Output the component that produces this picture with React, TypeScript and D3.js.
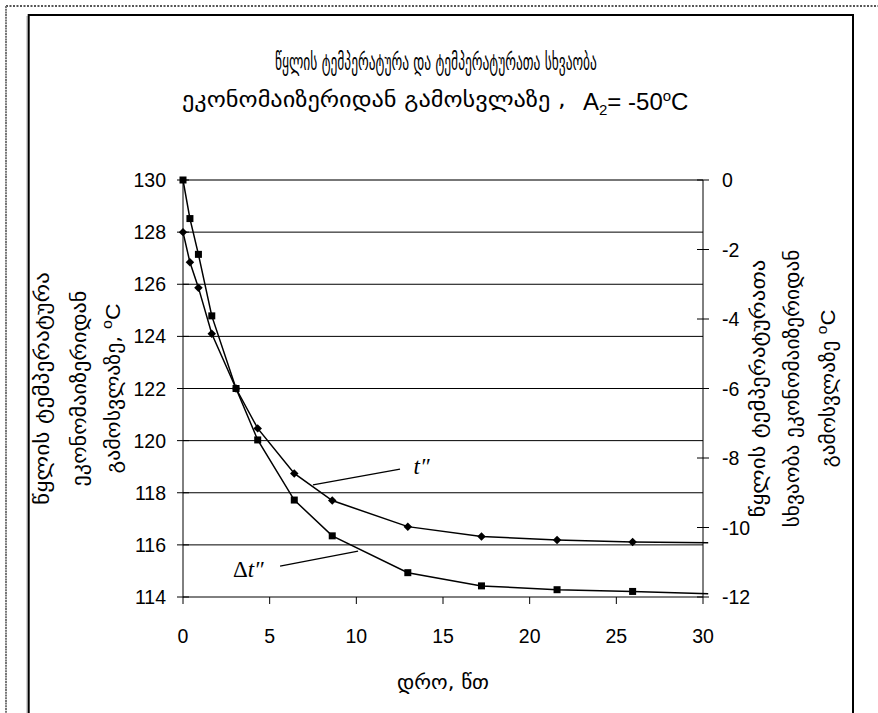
import React, { useLayoutEffect, useRef, useState } from "react";
import * as d3 from "d3";

// ---- data ----
const timeMin = [0, 0.4, 0.89, 1.66, 3.06, 4.31, 6.42, 8.61, 12.97, 17.22, 21.58, 25.94, 30.3];
const waterTemp = [128.0, 126.84, 125.87, 124.1, 122.0, 120.47, 118.74, 117.7, 116.7, 116.32, 116.19, 116.11, 116.08];
const tempDiff = [0, -1.11, -2.14, -3.91, -6.0, -7.48, -9.21, -10.24, -11.3, -11.68, -11.79, -11.84, -11.91];
const xTicks = [0, 5, 10, 15, 20, 25, 30];
const leftTicks = [114, 116, 118, 120, 122, 124, 126, 128, 130];
const rightTicks = [-12, -10, -8, -6, -4, -2, 0];

const titleLine1 = "წყლის ტემპერატურა და ტემპერატურათა სხვაობა";
const titleLine2 = "ეკონომაიზერიდან გამოსვლაზე ,";
const leftTitle = ["წყლის ტემპერატურა", "ეკონომაიზერიდან", "გამოსვლაზე, "];
const rightTitle = ["წყლის ტემპერატურათა", "სხვაობა ეკონომაიზერიდან", "გამოსვლაზე "];
const xTitle = "დრო, წთ";

// annotation anchors in data units
const tLabel = { x: 13.3, y: 118.72, lx1: 7.5, ly1: 118.3, lx2: 12.52, ly2: 118.91 };
const dtLabel = { x: 2.88, y: -11.42, lx1: 5.6, ly1: -11.11, lx2: 10.1, ly2: -10.68 };

const GEO = "'DejaVu Sans', 'DejaVu Serif', sans-serif";
const ARIAL = "'Liberation Sans', Arial, sans-serif";
const TIMES = "'Liberation Serif', 'Times New Roman', serif";

function FitText(props: {
  x: number; y: number; width: number; anchor?: string; rotate?: number;
  fontSize: number; children: React.ReactNode;
}) {
  const ref = useRef<SVGTextElement>(null);
  const [k, setK] = useState(1);
  useLayoutEffect(() => {
    if (ref.current) {
      const w = ref.current.getComputedTextLength();
      if (w > 0) setK(props.width / w);
    }
  }, [props.width]);
  return (
    <text ref={ref} x={0} y={0} textAnchor={props.anchor || "start"} fontFamily={GEO} fontSize={props.fontSize}
      transform={`translate(${props.x},${props.y}) rotate(${props.rotate || 0}) scale(${k},1)`}>
      {props.children}
    </text>
  );
}

export default function App() {
  const x0 = 183, x1 = 703, yTop = 180, yBot = 597;
  const x = d3.scaleLinear().domain([0, 30]).range([x0, x1]);
  const yL = d3.scaleLinear().domain([114, 130]).range([yBot, yTop]);
  const yR = d3.scaleLinear().domain([-12, 0]).range([yBot, yTop]);

  const ptsT = timeMin.map((t, i) => [t, waterTemp[i]] as [number, number]);
  const ptsD = timeMin.map((t, i) => [t, tempDiff[i]] as [number, number]);
  const lineT = d3.line<[number, number]>().x((d) => x(d[0])).y((d) => yL(d[1]));
  const lineD = d3.line<[number, number]>().x((d) => x(d[0])).y((d) => yR(d[1]));
  const diamondType = (d3 as any).symbolDiamond2 || d3.symbolDiamond;
  const diamond = d3.symbol().type(diamondType).size(46)();

  const leftTitleX = [49, 86, 120];
  const leftTitleLen = [233, 196, 170];
  const rightTitleX = [765, 799, 835];
  const rightTitleLen = [258, 278, 158];
  const yMid = (yTop + yBot) / 2;

  const degC = (
    <>
      <tspan fontFamily={ARIAL} fontSize={14} dy={-8}>o</tspan>
      <tspan fontFamily={ARIAL} fontSize={20} dy={8}>C</tspan>
    </>
  );

  return (
    <svg width={878} height={713} style={{ position: "absolute", left: 0, top: 0, background: "#fff" }}>
      {/* page borders */}
      <line x1={6} y1={6} x2={878} y2={6} stroke="#555" strokeWidth={2} strokeDasharray="2 1.5" />
      <line x1={6} y1={6} x2={6} y2={713} stroke="#777" strokeWidth={2} strokeDasharray="2 0.7" />
      <line x1={27} y1={16} x2={27} y2={713} stroke="#aaa" strokeWidth={1} />
      <path d={`M28.7,713 V15 H853 V713`} fill="none" stroke="#000" strokeWidth={2} />

      {/* title */}
      <FitText x={436} y={70} width={322} anchor="middle" fontSize={24}>{titleLine1}</FitText>
      <FitText x={182} y={107} width={384} fontSize={22}>{titleLine2}</FitText>
      <text x={583} y={110} fontFamily={ARIAL} fontSize={24}>
        A<tspan fontSize={15} dy={5}>2</tspan><tspan dy={-5}>= -50</tspan>
        <tspan fontSize={15} dy={-9}>o</tspan><tspan dy={9}>C</tspan>
      </text>

      {/* gridlines */}
      {leftTicks.filter((v) => v > 114).map((v) => (
        <line key={"g" + v} x1={x0} x2={x1} y1={yL(v)} y2={yL(v)} stroke={v === 130 ? "#777" : "#000"} strokeWidth={v === 130 ? 2 : 1} />
      ))}

      {/* axes */}
      <line x1={x0} x2={x0} y1={yTop} y2={yBot} stroke="#000" />
      <line x1={x1} x2={x1} y1={yTop} y2={yBot} stroke="#000" />
      <line x1={x0} x2={x1} y1={yBot} y2={yBot} stroke="#000" />
      {leftTicks.map((v) => (
        <g key={"lt" + v}>
          <line x1={x0 - 6} x2={x0 + 6} y1={yL(v)} y2={yL(v)} stroke="#000" />
          <text x={166} y={yL(v)} dy="0.36em" textAnchor="end" fontFamily={ARIAL} fontSize={19.5}>{v}</text>
        </g>
      ))}
      {rightTicks.map((v) => (
        <g key={"rt" + v}>
          <line x1={x1 - 6} x2={x1 + 6} y1={yR(v)} y2={yR(v)} stroke="#000" />
          <text x={722} y={yR(v)} dy="0.36em" textAnchor="start" fontFamily={ARIAL} fontSize={19.5}>{v}</text>
        </g>
      ))}
      {xTicks.map((v) => (
        <g key={"xt" + v}>
          <line x1={x(v)} x2={x(v)} y1={yBot} y2={yBot + 7} stroke="#000" />
          <text x={x(v)} y={643} textAnchor="middle" fontFamily={ARIAL} fontSize={19.5}>{v}</text>
        </g>
      ))}

      {/* axis titles */}
      <FitText x={443} y={689} width={92} anchor="middle" fontSize={19}>{xTitle}</FitText>
      {leftTitle.map((s, i) => (
        <FitText key={"lT" + i} x={leftTitleX[i]} y={yMid} rotate={-90} width={leftTitleLen[i]} anchor="middle" fontSize={19}>
          {s}{i === 2 && degC}
        </FitText>
      ))}
      {rightTitle.map((s, i) => (
        <FitText key={"rT" + i} x={rightTitleX[i]} y={yMid} rotate={-90} width={rightTitleLen[i]} anchor="middle" fontSize={19}>
          {s}{i === 2 && degC}
        </FitText>
      ))}

      {/* series */}
      <path d={lineT(ptsT) || ""} fill="none" stroke="#000" strokeWidth={1.5} />
      <path d={lineD(ptsD) || ""} fill="none" stroke="#000" strokeWidth={1.5} />
      {ptsT.filter((d) => d[0] <= 30).map((d, i) => (
        <path key={"dm" + i} d={diamond || ""} transform={`translate(${x(d[0])},${yL(d[1])})`} fill="#000" />
      ))}
      {ptsD.filter((d) => d[0] <= 30).map((d, i) => (
        <rect key={"sq" + i} x={x(d[0]) - 3.5} y={yR(d[1]) - 3.5} width={7} height={7} fill="#000" />
      ))}

      {/* annotations */}
      <line x1={x(tLabel.lx1)} y1={yL(tLabel.ly1)} x2={x(tLabel.lx2)} y2={yL(tLabel.ly2)} stroke="#000" strokeWidth={1.3} />
      <text x={x(tLabel.x)} y={yL(tLabel.y)} fontFamily={TIMES} fontSize={23} fontStyle="italic">t″</text>
      <line x1={x(dtLabel.lx1)} y1={yR(dtLabel.ly1)} x2={x(dtLabel.lx2)} y2={yR(dtLabel.ly2)} stroke="#000" strokeWidth={1.3} />
      <text x={x(dtLabel.x)} y={yR(dtLabel.y)} fontFamily={TIMES} fontSize={23}>
        Δ<tspan fontStyle="italic">t″</tspan>
      </text>
    </svg>
  );
}
